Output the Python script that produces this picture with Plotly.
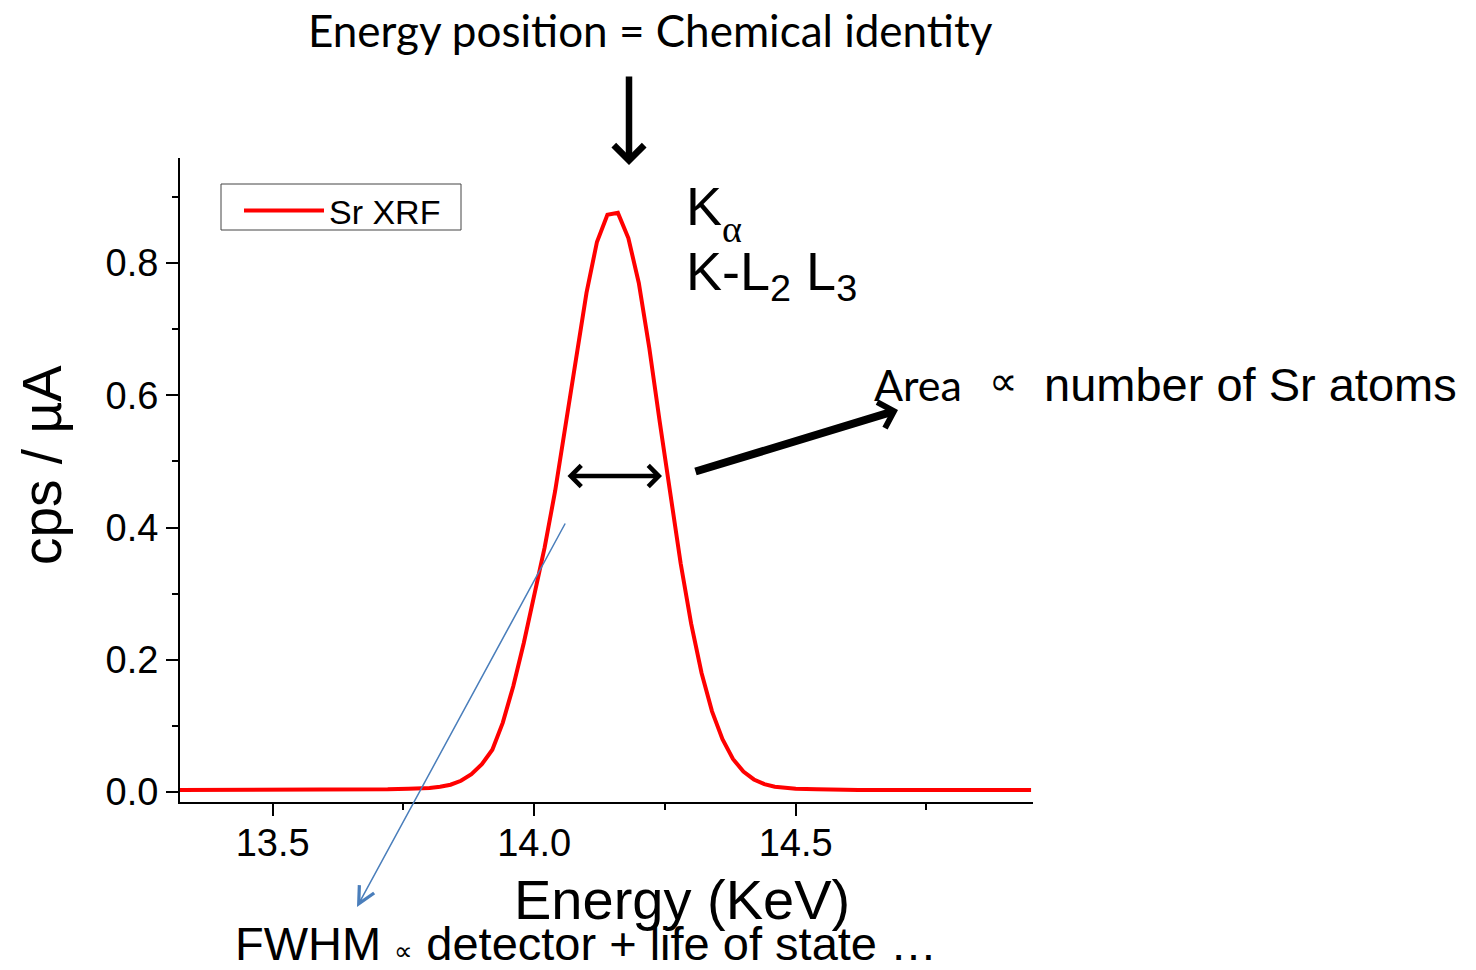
import plotly.graph_objects as go

# ---------------- data ----------------
energy_kev = [13.32, 13.36, 13.40, 13.44, 13.48, 13.52, 13.56, 13.60, 13.64, 13.68,
              13.72, 13.76, 13.78, 13.80, 13.82, 13.84, 13.86, 13.88, 13.90, 13.92,
              13.94, 13.96, 13.98, 14.00, 14.02, 14.04, 14.06, 14.08, 14.10, 14.12,
              14.14, 14.16, 14.18, 14.20, 14.22, 14.24, 14.26, 14.28, 14.30, 14.32,
              14.34, 14.36, 14.38, 14.40, 14.42, 14.44, 14.46, 14.48, 14.50, 14.54,
              14.58, 14.62, 14.66, 14.70, 14.74, 14.78, 14.82, 14.86, 14.90, 14.95]
cps_per_ua = [0.003, 0.003, 0.003, 0.003, 0.003, 0.003, 0.003, 0.003, 0.003, 0.004,
              0.004, 0.005, 0.005, 0.006, 0.008, 0.011, 0.017, 0.027, 0.042, 0.064,
              0.105, 0.160, 0.225, 0.295, 0.370, 0.455, 0.555, 0.660, 0.755, 0.832,
              0.873, 0.876, 0.838, 0.770, 0.672, 0.560, 0.450, 0.346, 0.255, 0.180,
              0.122, 0.080, 0.050, 0.031, 0.019, 0.012, 0.008, 0.006, 0.005, 0.004,
              0.003, 0.003, 0.003, 0.003, 0.003, 0.003, 0.003, 0.003, 0.003, 0.003]
series_name = "Sr XRF"

x_tick_vals = [13.5, 14.0, 14.5]
x_tick_text = ["13.5", "14.0", "14.5"]
x_minor_vals = [13.75, 14.25, 14.75]
y_tick_vals = [0.0, 0.2, 0.4, 0.6, 0.8]
y_tick_text = ["0.0", "0.2", "0.4", "0.6", "0.8"]
y_minor_vals = [0.1, 0.3, 0.5, 0.7, 0.9]

x_title = "Energy (KeV)"
y_title = "cps / µA"
top_note = "Energy position = Chemical identity"
transition_k = "K"
transition_alpha = "α"
transition_line2 = "K-L<sub>2</sub> L<sub>3</sub>"
area_word = "Area"
prop_sym = "∝"
area_rest = "number of Sr atoms"
fwhm_note = "FWHM <span style='font-size:26px'>∝</span> detector + life of state …"

# ---------------- layout geometry ----------------
W, H = 1476, 970
L, R, T, B = 180, 1033, 158, 802   # plot area in pixels

def P(px, py):
    """pixel -> paper coordinates"""
    return (px - L) / (R - L), (B - py) / (B - T)

ARIAL = "Liberation Sans, Arial, sans-serif"
CALIBRI = "Lato, Carlito, Calibri, sans-serif"
SERIF = "Liberation Serif, Times New Roman, serif"

fig = go.Figure()
fig.add_trace(go.Scatter(x=energy_kev, y=cps_per_ua, mode="lines", name=series_name,
                         line=dict(color="#ff0000", width=4), showlegend=True))

axis_common = dict(showline=True, linecolor="black", linewidth=2, showgrid=False,
                   zeroline=False, ticks="outside", ticklen=12, tickwidth=2,
                   tickcolor="black", tickfont=dict(family=ARIAL, size=38, color="black"))

fig.update_layout(
    width=W, height=H, autosize=False,
    margin=dict(l=L, r=W - R, t=T, b=H - B, pad=0),
    paper_bgcolor="white", plot_bgcolor="white",
    xaxis=dict(range=[13.3228, 14.9537], tickmode="array", tickvals=x_tick_vals,
               ticktext=x_tick_text, ticklabelstandoff=-6,
               minor=dict(tickmode="array", tickvals=x_minor_vals, ticks="outside",
                          ticklen=6, tickwidth=2, tickcolor="black", showgrid=False),
               **axis_common),
    yaxis=dict(range=[-0.0151, 0.959], tickmode="array", tickvals=y_tick_vals,
               ticktext=y_tick_text,
               minor=dict(tickmode="array", tickvals=y_minor_vals, ticks="outside",
                          ticklen=6, tickwidth=2, tickcolor="black", showgrid=False),
               **axis_common),
    legend=dict(x=P(239, 182)[0], y=P(239, 182)[1], xanchor="left", yanchor="top",
                bgcolor="rgba(0,0,0,0)", borderwidth=0,
                font=dict(family=ARIAL, size=34, color="black"), itemwidth=80),
    showlegend=True,
)

# legend frame
lx0, ly0 = P(221, 230)
lx1, ly1 = P(461, 184)
fig.add_shape(type="rect", xref="paper", yref="paper", x0=lx0, y0=ly0, x1=lx1, y1=ly1,
              line=dict(color="#444", width=1), fillcolor="rgba(0,0,0,0)", layer="above")

def text_ann(txt, px, py, size, family=ARIAL, xanchor="center", yanchor="middle", angle=0):
    x, y = P(px, py)
    fig.add_annotation(text=txt, x=x, y=y, xref="paper", yref="paper", showarrow=False,
                       xanchor=xanchor, yanchor=yanchor, textangle=angle,
                       font=dict(family=family, size=size, color="black"))

def arrow_ann(hx, hy, tx, ty, width, head, size, color="black", both=False):
    x, y = P(hx, hy)
    kw = dict(text="", x=x, y=y, xref="paper", yref="paper", axref="pixel", ayref="pixel",
              ax=tx - hx, ay=ty - hy, showarrow=True, arrowhead=head, arrowsize=size,
              arrowwidth=width, arrowcolor=color, standoff=0, startstandoff=0)
    if both:
        kw.update(arrowside="end+start", startarrowhead=head, startarrowsize=size)
    fig.add_annotation(**kw)

# texts
text_ann(top_note, 650, 30, 44, family=CALIBRI)
text_ann(transition_k, 684, 206, 54, xanchor="left")
text_ann(transition_alpha, 720, 229, 38, family=SERIF, xanchor="left")
text_ann(transition_line2, 684, 275, 54, xanchor="left")
text_ann(area_word, 918, 384, 43, family=CALIBRI)
text_ann(prop_sym, 1003, 381, 40)
text_ann(area_rest, 1042, 384, 47, xanchor="left")
text_ann(fwhm_note, 233, 943, 47, xanchor="left")
text_ann(x_title, 682, 899, 56)
text_ann(y_title, 42, 465, 55, angle=-90)

# arrows
arrow_ann(629, 165, 629, 75, 6.5, 4, 0.9)
arrow_ann(662, 476, 566, 476, 4.5, 4, 0.9, both=True)
arrow_ann(898, 410, 694, 472, 8, 4, 0.65)
arrow_ann(357, 907, 566, 522, 1.5, 5, 2.2, color="#4a7ebb")

fig.write_html("out.html")
